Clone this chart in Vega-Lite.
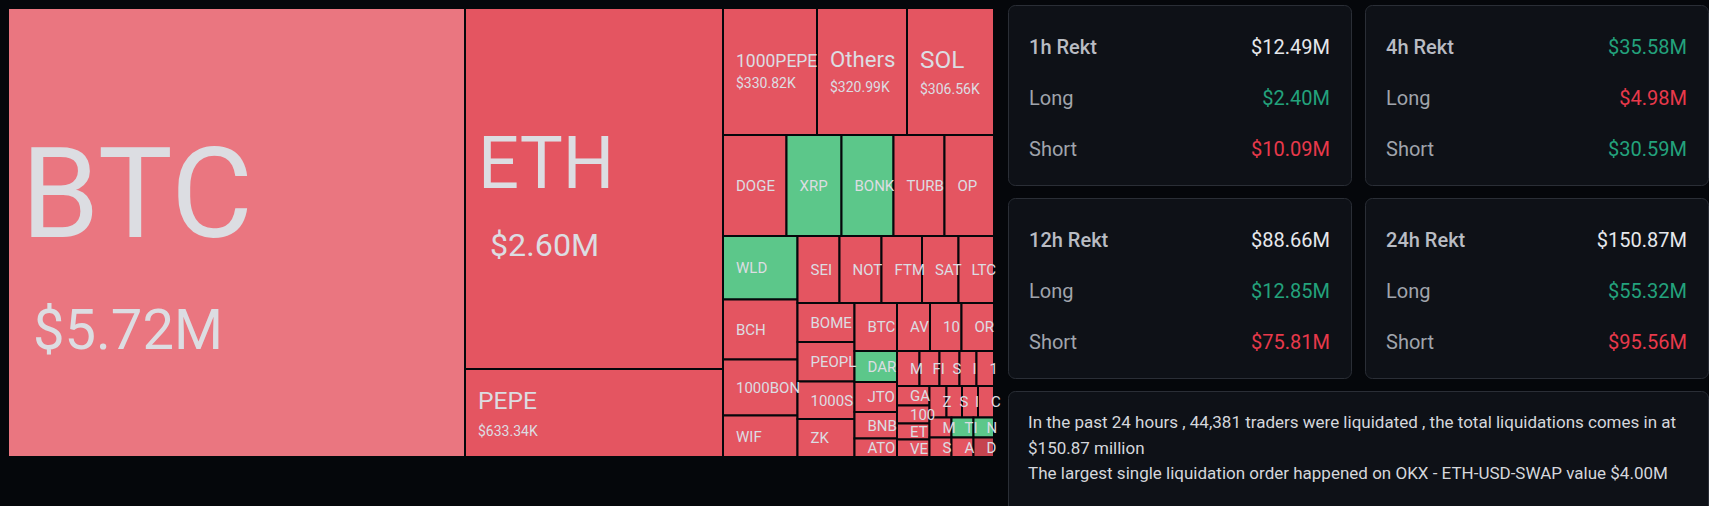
{
  "$schema": "https://vega.github.io/schema/vega-lite/v6.json",
  "background": "#05070b",
  "padding": {"left": 7, "top": 4, "right": 0, "bottom": 0},
  "bounds": "flush",
  "spacing": 14,
  "config": {"view": {"stroke": null}, "font": "Roboto"},
  "datasets": {
    "cells": [
      {"coin": "BTC", "value": 5720, "dominant": "Balanced", "x0": 0, "x1": 457, "y0": 0, "y1": 449},
      {"coin": "ETH", "value": 2600, "dominant": "Long", "x0": 457, "x1": 715, "y0": 0, "y1": 361},
      {"coin": "PEPE", "value": 633.34, "dominant": "Long", "x0": 457, "x1": 715, "y0": 361, "y1": 449},
      {"coin": "1000PEPE", "value": 330.82, "dominant": "Long", "x0": 715, "x1": 809, "y0": 0, "y1": 127},
      {"coin": "Others", "value": 320.99, "dominant": "Long", "x0": 809, "x1": 899, "y0": 0, "y1": 127},
      {"coin": "SOL", "value": 306.56, "dominant": "Long", "x0": 899, "x1": 986, "y0": 0, "y1": 127},
      {"coin": "DOGE", "value": 180, "dominant": "Long", "x0": 715, "x1": 778.5, "y0": 127, "y1": 228},
      {"coin": "XRP", "value": 156, "dominant": "Short", "x0": 778.5, "x1": 833.5, "y0": 127, "y1": 228},
      {"coin": "BONK", "value": 148, "dominant": "Short", "x0": 833.5, "x1": 885.5, "y0": 127, "y1": 228},
      {"coin": "TURBO", "value": 145, "dominant": "Long", "x0": 885.5, "x1": 936.5, "y0": 127, "y1": 228},
      {"coin": "OP", "value": 141, "dominant": "Long", "x0": 936.5, "x1": 986, "y0": 127, "y1": 228},
      {"coin": "WLD", "value": 133, "dominant": "Short", "x0": 715, "x1": 789.5, "y0": 228, "y1": 291.5},
      {"coin": "BCH", "value": 126, "dominant": "Long", "x0": 715, "x1": 789.5, "y0": 291.5, "y1": 351.5},
      {"coin": "1000BONK", "value": 117, "dominant": "Long", "x0": 715, "x1": 789.5, "y0": 351.5, "y1": 407.5},
      {"coin": "WIF", "value": 87, "dominant": "Long", "x0": 715, "x1": 789.5, "y0": 407.5, "y1": 449},
      {"coin": "SEI", "value": 79, "dominant": "Long", "x0": 789.5, "x1": 831.5, "y0": 228, "y1": 295},
      {"coin": "NOT", "value": 79, "dominant": "Long", "x0": 831.5, "x1": 873.5, "y0": 228, "y1": 295},
      {"coin": "FTM", "value": 76, "dominant": "Long", "x0": 873.5, "x1": 914, "y0": 228, "y1": 295},
      {"coin": "SATS", "value": 69, "dominant": "Long", "x0": 914, "x1": 950.5, "y0": 228, "y1": 295},
      {"coin": "LTC", "value": 67, "dominant": "Long", "x0": 950.5, "x1": 986, "y0": 228, "y1": 295},
      {"coin": "BOME", "value": 63, "dominant": "Long", "x0": 789.5, "x1": 846.5, "y0": 295, "y1": 334},
      {"coin": "PEOPLE", "value": 63, "dominant": "Long", "x0": 789.5, "x1": 846.5, "y0": 334, "y1": 373.5},
      {"coin": "1000SHIB", "value": 60, "dominant": "Long", "x0": 789.5, "x1": 846.5, "y0": 373.5, "y1": 411},
      {"coin": "ZK", "value": 60, "dominant": "Long", "x0": 789.5, "x1": 846.5, "y0": 411, "y1": 449},
      {"coin": "BTCDOM", "value": 57, "dominant": "Long", "x0": 846.5, "x1": 889, "y0": 295, "y1": 343},
      {"coin": "AVAX", "value": 45, "dominant": "Long", "x0": 889, "x1": 922, "y0": 295, "y1": 343},
      {"coin": "1000FLOKI", "value": 43, "dominant": "Long", "x0": 922, "x1": 953.5, "y0": 295, "y1": 343},
      {"coin": "ORDI", "value": 44, "dominant": "Long", "x0": 953.5, "x1": 986, "y0": 295, "y1": 343},
      {"coin": "DAR", "value": 37, "dominant": "Short", "x0": 846.5, "x1": 889, "y0": 343, "y1": 374},
      {"coin": "JTO", "value": 36, "dominant": "Long", "x0": 846.5, "x1": 889, "y0": 374, "y1": 404},
      {"coin": "BNB", "value": 32, "dominant": "Long", "x0": 846.5, "x1": 889, "y0": 404, "y1": 430.5},
      {"coin": "ATOM", "value": 22, "dominant": "Long", "x0": 846.5, "x1": 889, "y0": 430.5, "y1": 449},
      {"coin": "MATIC", "value": 22, "dominant": "Long", "x0": 889, "x1": 911.5, "y0": 343, "y1": 378},
      {"coin": "FIL", "value": 20, "dominant": "Long", "x0": 911.5, "x1": 931.5, "y0": 343, "y1": 378},
      {"coin": "STX", "value": 20, "dominant": "Long", "x0": 931.5, "x1": 951.5, "y0": 343, "y1": 378},
      {"coin": "IO", "value": 17, "dominant": "Long", "x0": 951.5, "x1": 968.5, "y0": 343, "y1": 378},
      {"coin": "1000LUNC", "value": 17, "dominant": "Long", "x0": 968.5, "x1": 986, "y0": 343, "y1": 378},
      {"coin": "GALA", "value": 18, "dominant": "Long", "x0": 889, "x1": 921.5, "y0": 378, "y1": 397.5},
      {"coin": "1000RATS", "value": 16, "dominant": "Long", "x0": 889, "x1": 921.5, "y0": 397.5, "y1": 415.5},
      {"coin": "ETC", "value": 15, "dominant": "Long", "x0": 889, "x1": 921.5, "y0": 415.5, "y1": 431.5},
      {"coin": "VET", "value": 16, "dominant": "Long", "x0": 889, "x1": 921.5, "y0": 431.5, "y1": 449},
      {"coin": "ZRO", "value": 15, "dominant": "Long", "x0": 921.5, "x1": 938.5, "y0": 378, "y1": 409.5},
      {"coin": "SUI", "value": 14, "dominant": "Long", "x0": 938.5, "x1": 954, "y0": 378, "y1": 409.5},
      {"coin": "IMX", "value": 14, "dominant": "Long", "x0": 954, "x1": 970, "y0": 378, "y1": 409.5},
      {"coin": "CRV", "value": 14, "dominant": "Long", "x0": 970, "x1": 986, "y0": 378, "y1": 409.5},
      {"coin": "MEW", "value": 12, "dominant": "Long", "x0": 921.5, "x1": 943.5, "y0": 409.5, "y1": 429.5},
      {"coin": "TIA", "value": 12, "dominant": "Short", "x0": 943.5, "x1": 965.5, "y0": 409.5, "y1": 429.5},
      {"coin": "NEAR", "value": 12, "dominant": "Short", "x0": 965.5, "x1": 986, "y0": 409.5, "y1": 429.5},
      {"coin": "STRK", "value": 12, "dominant": "Long", "x0": 921.5, "x1": 943.5, "y0": 429.5, "y1": 449},
      {"coin": "ARB", "value": 12, "dominant": "Long", "x0": 943.5, "x1": 965.5, "y0": 429.5, "y1": 449},
      {"coin": "DOT", "value": 11, "dominant": "Strong long", "x0": 965.5, "x1": 986, "y0": 429.5, "y1": 449}
    ],
    "cards": [
      {"card": "1h", "row": "title", "label": "1h Rekt", "amount": 12.49, "tone": "neutral"},
      {"card": "1h", "row": "long", "label": "Long", "amount": 2.40, "tone": "up"},
      {"card": "1h", "row": "short", "label": "Short", "amount": 10.09, "tone": "down"},
      {"card": "4h", "row": "title", "label": "4h Rekt", "amount": 35.58, "tone": "up"},
      {"card": "4h", "row": "long", "label": "Long", "amount": 4.98, "tone": "down"},
      {"card": "4h", "row": "short", "label": "Short", "amount": 30.59, "tone": "up"},
      {"card": "12h", "row": "title", "label": "12h Rekt", "amount": 88.66, "tone": "neutral"},
      {"card": "12h", "row": "long", "label": "Long", "amount": 12.85, "tone": "up"},
      {"card": "12h", "row": "short", "label": "Short", "amount": 75.81, "tone": "down"},
      {"card": "24h", "row": "title", "label": "24h Rekt", "amount": 150.87, "tone": "neutral"},
      {"card": "24h", "row": "long", "label": "Long", "amount": 55.32, "tone": "up"},
      {"card": "24h", "row": "short", "label": "Short", "amount": 95.56, "tone": "down"}
    ],
    "notes": [
      {"line": 1, "text": "In the past 24 hours , 44,381 traders were liquidated , the total liquidations comes in at"},
      {"line": 2, "text": "$150.87 million"},
      {"line": 3, "text": "The largest single liquidation order happened on OKX - ETH-USD-SWAP value $4.00M"}
    ]
  },
  "hconcat": [
    {
      "width": 986,
      "height": 452,
      "data": {"name": "cells"},
      "transform": [
        {"calculate": "datum.x1 - datum.x0", "as": "w"},
        {"calculate": "datum.y1 - datum.y0", "as": "h"},
        {"calculate": "min(datum.w, datum.h)", "as": "m"},
        {"calculate": "datum.value >= 300", "as": "big"},
        {"calculate": "datum.big ? min(0.28 * datum.m, (datum.w - 10) / (0.6 * length(datum.coin))) : 15", "as": "fsL"},
        {"calculate": "max(14, 0.125 * datum.m)", "as": "fsV"},
        {"calculate": "13", "as": "pad"},
        {"calculate": "datum.x0 + datum.pad", "as": "xl"},
        {"calculate": "datum.xl + (datum.value >= 1000 ? 12 : 0)", "as": "xv"},
        {"calculate": "(datum.y0 + datum.y1) / 2", "as": "ym"},
        {"calculate": "datum.big ? datum.ym + 0.083 * datum.fsL - 6 : datum.ym + 0.36 * datum.fsL", "as": "yl"},
        {"calculate": "datum.ym + 0.93 * datum.fsL", "as": "yv"},
        {"calculate": "max(datum.w - datum.pad + 6, 14)", "as": "lim"},
        {"calculate": "datum.value >= 1000 ? '$' + format(datum.value / 1000, '.2f') + 'M' : '$' + format(datum.value, '.2f') + 'K'", "as": "valTxt"}
      ],
      "layer": [
        {
          "mark": {"type": "rect", "stroke": "#05070b", "strokeWidth": 2},
          "encoding": {
            "x": {"field": "x0", "type": "quantitative", "scale": {"domain": [0, 986], "nice": false, "zero": false}, "axis": null},
            "x2": {"field": "x1"},
            "y": {"field": "y0", "type": "quantitative", "scale": {"domain": [-3, 449], "nice": false, "zero": false, "reverse": true}, "axis": null},
            "y2": {"field": "y1"},
            "color": {"field": "dominant", "type": "nominal", "legend": null,
              "scale": {"domain": ["Long", "Short", "Balanced", "Strong long"], "range": ["#e45561", "#5cc78a", "#ea7680", "#c5444f"]}},
            "tooltip": [{"field": "coin"}, {"field": "valTxt", "title": "value"}]
          }
        },
        {
          "mark": {"type": "text", "align": "left", "baseline": "alphabetic", "color": "#dcdde2", "font": "Roboto", "limit": {"expr": "datum.lim"}, "ellipsis": "\u200b"},
          "encoding": {
            "x": {"field": "xl", "type": "quantitative"},
            "y": {"field": "yl", "type": "quantitative"},
            "text": {"field": "coin"},
            "size": {"field": "fsL", "type": "quantitative", "scale": null, "legend": null}
          }
        },
        {
          "transform": [{"filter": "datum.big"}],
          "mark": {"type": "text", "align": "left", "baseline": "alphabetic", "color": "#dcdde2", "font": "Roboto"},
          "encoding": {
            "x": {"field": "xv", "type": "quantitative"},
            "y": {"field": "yv", "type": "quantitative"},
            "text": {"field": "valTxt"},
            "size": {"field": "fsV", "type": "quantitative", "scale": null, "legend": null}
          }
        }
      ]
    },
    {
      "spacing": 11,
      "vconcat": [
        {
          "spacing": 14,
          "bounds": "flush",
          "hconcat": [
            {
              "width": 343, "height": 180,
              "view": {"fill": "#0e1117", "stroke": "#2a2e36", "strokeWidth": 1, "cornerRadius": 7},
              "data": {"name": "cards"},
              "transform": [{"filter": "datum.card === '1h'"}, {"calculate": "'$' + format(datum.amount, '.2f') + 'M'", "as": "amt"}],
              "encoding": {"y": {"field": "row", "type": "nominal", "scale": {"type": "point", "domain": ["title", "long", "short"], "padding": 0.765, "align": 0.551}, "axis": null}},
              "layer": [
                {"transform": [{"filter": "datum.row !== 'title'"}], "mark": {"type": "text", "align": "left", "baseline": "middle", "fontSize": 20, "color": "#a0a4ac"},
                 "encoding": {"x": {"datum": "label", "type": "nominal", "scale": {"type": "point", "domain": ["label", "amount"], "padding": 0.0698, "align": 0.5}, "axis": null}, "text": {"field": "label"}}},
                {"transform": [{"filter": "datum.row === 'title'"}], "mark": {"type": "text", "align": "left", "baseline": "middle", "fontSize": 20, "fontWeight": 500, "color": "#b9bcc3"},
                 "encoding": {"x": {"datum": "label", "type": "nominal"}, "text": {"field": "label"}}},
                {"mark": {"type": "text", "align": "right", "baseline": "middle", "fontSize": 20},
                 "encoding": {"x": {"datum": "amount", "type": "nominal"}, "text": {"field": "amt"},
                   "fontWeight": {"condition": {"test": "datum.row === 'title'", "value": 600}, "value": 400},
                   "color": {"condition": [{"test": "datum.tone === 'up'", "value": "#23a27c"}, {"test": "datum.tone === 'down'", "value": "#e8394b"}], "value": "#e6e8ec"}}}
              ]
            },
            {
              "width": 343, "height": 180,
              "view": {"fill": "#0e1117", "stroke": "#2a2e36", "strokeWidth": 1, "cornerRadius": 7},
              "data": {"name": "cards"},
              "transform": [{"filter": "datum.card === '4h'"}, {"calculate": "'$' + format(datum.amount, '.2f') + 'M'", "as": "amt"}],
              "encoding": {"y": {"field": "row", "type": "nominal", "scale": {"type": "point", "domain": ["title", "long", "short"], "padding": 0.765, "align": 0.551}, "axis": null}},
              "layer": [
                {"transform": [{"filter": "datum.row !== 'title'"}], "mark": {"type": "text", "align": "left", "baseline": "middle", "fontSize": 20, "color": "#a0a4ac"},
                 "encoding": {"x": {"datum": "label", "type": "nominal", "scale": {"type": "point", "domain": ["label", "amount"], "padding": 0.0698, "align": 0.5}, "axis": null}, "text": {"field": "label"}}},
                {"transform": [{"filter": "datum.row === 'title'"}], "mark": {"type": "text", "align": "left", "baseline": "middle", "fontSize": 20, "fontWeight": 500, "color": "#b9bcc3"},
                 "encoding": {"x": {"datum": "label", "type": "nominal"}, "text": {"field": "label"}}},
                {"mark": {"type": "text", "align": "right", "baseline": "middle", "fontSize": 20},
                 "encoding": {"x": {"datum": "amount", "type": "nominal"}, "text": {"field": "amt"},
                   "fontWeight": {"condition": {"test": "datum.row === 'title'", "value": 600}, "value": 400},
                   "color": {"condition": [{"test": "datum.tone === 'up'", "value": "#23a27c"}, {"test": "datum.tone === 'down'", "value": "#e8394b"}], "value": "#e6e8ec"}}}
              ]
            }
          ]
        },
        {
          "spacing": 14,
          "bounds": "flush",
          "hconcat": [
            {
              "width": 343, "height": 180,
              "view": {"fill": "#0e1117", "stroke": "#2a2e36", "strokeWidth": 1, "cornerRadius": 7},
              "data": {"name": "cards"},
              "transform": [{"filter": "datum.card === '12h'"}, {"calculate": "'$' + format(datum.amount, '.2f') + 'M'", "as": "amt"}],
              "encoding": {"y": {"field": "row", "type": "nominal", "scale": {"type": "point", "domain": ["title", "long", "short"], "padding": 0.765, "align": 0.551}, "axis": null}},
              "layer": [
                {"transform": [{"filter": "datum.row !== 'title'"}], "mark": {"type": "text", "align": "left", "baseline": "middle", "fontSize": 20, "color": "#a0a4ac"},
                 "encoding": {"x": {"datum": "label", "type": "nominal", "scale": {"type": "point", "domain": ["label", "amount"], "padding": 0.0698, "align": 0.5}, "axis": null}, "text": {"field": "label"}}},
                {"transform": [{"filter": "datum.row === 'title'"}], "mark": {"type": "text", "align": "left", "baseline": "middle", "fontSize": 20, "fontWeight": 500, "color": "#b9bcc3"},
                 "encoding": {"x": {"datum": "label", "type": "nominal"}, "text": {"field": "label"}}},
                {"mark": {"type": "text", "align": "right", "baseline": "middle", "fontSize": 20},
                 "encoding": {"x": {"datum": "amount", "type": "nominal"}, "text": {"field": "amt"},
                   "fontWeight": {"condition": {"test": "datum.row === 'title'", "value": 600}, "value": 400},
                   "color": {"condition": [{"test": "datum.tone === 'up'", "value": "#23a27c"}, {"test": "datum.tone === 'down'", "value": "#e8394b"}], "value": "#e6e8ec"}}}
              ]
            },
            {
              "width": 343, "height": 180,
              "view": {"fill": "#0e1117", "stroke": "#2a2e36", "strokeWidth": 1, "cornerRadius": 7},
              "data": {"name": "cards"},
              "transform": [{"filter": "datum.card === '24h'"}, {"calculate": "'$' + format(datum.amount, '.2f') + 'M'", "as": "amt"}],
              "encoding": {"y": {"field": "row", "type": "nominal", "scale": {"type": "point", "domain": ["title", "long", "short"], "padding": 0.765, "align": 0.551}, "axis": null}},
              "layer": [
                {"transform": [{"filter": "datum.row !== 'title'"}], "mark": {"type": "text", "align": "left", "baseline": "middle", "fontSize": 20, "color": "#a0a4ac"},
                 "encoding": {"x": {"datum": "label", "type": "nominal", "scale": {"type": "point", "domain": ["label", "amount"], "padding": 0.0698, "align": 0.5}, "axis": null}, "text": {"field": "label"}}},
                {"transform": [{"filter": "datum.row === 'title'"}], "mark": {"type": "text", "align": "left", "baseline": "middle", "fontSize": 20, "fontWeight": 500, "color": "#b9bcc3"},
                 "encoding": {"x": {"datum": "label", "type": "nominal"}, "text": {"field": "label"}}},
                {"mark": {"type": "text", "align": "right", "baseline": "middle", "fontSize": 20},
                 "encoding": {"x": {"datum": "amount", "type": "nominal"}, "text": {"field": "amt"},
                   "fontWeight": {"condition": {"test": "datum.row === 'title'", "value": 600}, "value": 400},
                   "color": {"condition": [{"test": "datum.tone === 'up'", "value": "#23a27c"}, {"test": "datum.tone === 'down'", "value": "#e8394b"}], "value": "#e6e8ec"}}}
              ]
            }
          ]
        },
        {
          "width": 700,
          "height": 130,
          "view": {"fill": "#0e1117", "stroke": "#2a2e36", "strokeWidth": 1, "cornerRadius": 7},
          "data": {"name": "notes"},
          "mark": {"type": "text", "align": "left", "baseline": "middle", "fontSize": 17, "color": "#d5d7dc"},
          "encoding": {
            "y": {"field": "line", "type": "quantitative", "scale": {"domain": [-0.255, 4.843], "nice": false, "zero": false, "reverse": true}, "axis": null},
            "x": {"datum": "text", "type": "nominal", "scale": {"type": "point", "align": 0.0286}, "axis": null},
            "text": {"field": "text"}
          }
        }
      ]
    }
  ]
}
